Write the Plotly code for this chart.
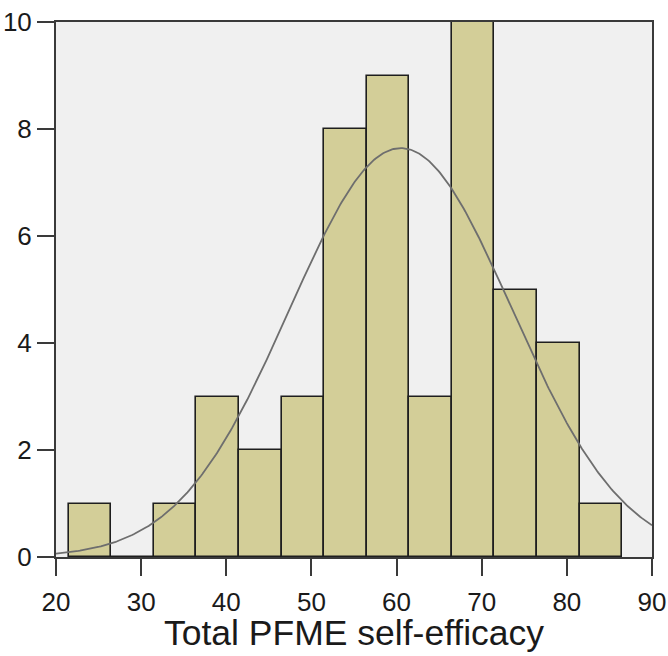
import numpy as np
import plotly.graph_objects as go

# Histogram data (bins of width 5)
bin_centers = [24, 29, 34, 39, 44, 49, 54, 59, 64, 69, 74, 79, 84]
counts = [1, 0, 1, 3, 2, 3, 8, 9, 3, 10, 5, 4, 1]
bin_width = 5

# Fitted normal curve parameters
fit_mean = 60.5
fit_sd = 13.05
n_total = sum(counts)

x_ticks = [20, 30, 40, 50, 60, 70, 80, 90]
y_ticks = [0, 2, 4, 6, 8, 10]
x_title = "Total PFME self-efficacy"

xs = np.linspace(20, 90, 400)
ys = n_total * bin_width / (fit_sd * np.sqrt(2 * np.pi)) * np.exp(-(xs - fit_mean) ** 2 / (2 * fit_sd ** 2))

fig = go.Figure()
fig.add_trace(go.Bar(
    x=bin_centers, y=counts, width=bin_width,
    marker=dict(color="#d3ce98", line=dict(color="#1e1e1e", width=1.6)),
    hoverinfo="skip",
))
fig.add_trace(go.Scatter(
    x=xs, y=ys, mode="lines",
    line=dict(color="#6e6e6e", width=1.8),
    hoverinfo="skip",
))

font = "Liberation Sans, Arial, sans-serif"
fig.update_layout(
    width=668, height=656,
    margin=dict(l=56, r=16, t=22, b=99),
    paper_bgcolor="white",
    plot_bgcolor="#f0f0f0",
    showlegend=False,
    bargap=0,
    font=dict(family=font, color="#1a1a1a"),
    annotations=[dict(
        text=x_title, xref="paper", yref="paper", x=0.5, y=-0.184,
        xanchor="center", yanchor="bottom", showarrow=False,
        font=dict(size=35.5, family=font, color="#1a1a1a"),
    )],
)
fig.update_xaxes(
    range=[20, 90], tickvals=x_ticks, ticktext=[str(v) for v in x_ticks],
    showgrid=False, zeroline=False, automargin=False,
    showline=True, linecolor="#3a3a3a", linewidth=2, mirror=True,
    ticks="outside", ticklen=17, tickwidth=2, tickcolor="#3a3a3a",
    ticklabeloverflow="allow", ticklabelstandoff=4,
    tickfont=dict(size=26, family=font, color="#1a1a1a"),
)
fig.update_yaxes(
    range=[0, 10], tickvals=y_ticks, ticktext=[str(v) for v in y_ticks],
    showgrid=False, zeroline=False, automargin=False,
    showline=True, linecolor="#3a3a3a", linewidth=2, mirror=True,
    ticks="outside", ticklen=17, tickwidth=2, tickcolor="#3a3a3a",
    ticklabeloverflow="allow",
    tickfont=dict(size=26, family=font, color="#1a1a1a"),
)

fig.write_html(
    "out.html",
    config={"displayModeBar": False},
    post_script="document.body.style.margin='0';document.body.style.overflow='hidden';",
)
